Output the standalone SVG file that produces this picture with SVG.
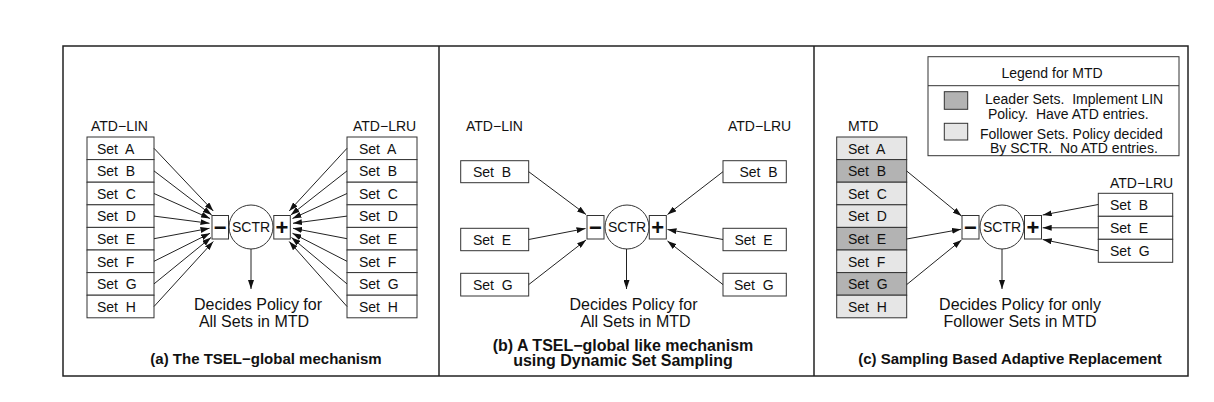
<svg xmlns="http://www.w3.org/2000/svg" width="1214" height="402" viewBox="0 0 1214 402">
<defs>
<marker id="ah" markerUnits="userSpaceOnUse" markerWidth="10" markerHeight="6" refX="9" refY="3" orient="auto">
<path d="M0,0 L9,3 L0,6 z" fill="#111"/>
</marker>
<style>
.t{font-family:"Liberation Sans",Arial,sans-serif;fill:#111}
.s{font-size:14px}
.lab{font-size:14px}
.cap{font-size:15px;font-weight:bold}
.dec{font-size:16px;text-anchor:middle}
.sc{font-size:14px;text-anchor:middle}
.sg{font-size:22px;font-weight:bold;text-anchor:middle}
.box{fill:#fff;stroke:#333;stroke-width:1}
.ld{fill:#b3b3b3;stroke:#333;stroke-width:1}
.fl{fill:#e6e6e6;stroke:#333;stroke-width:1}
.c{fill:none;stroke:#333;stroke-width:1}
.fr{fill:none;stroke:#222;stroke-width:1.5}
.ar{stroke:#222;stroke-width:1;fill:none;marker-end:url(#ah)}
</style>
</defs>
<rect x="0" y="0" width="1214" height="402" fill="#fff"/>
<g id="frame">
<rect class="fr" x="63" y="46" width="1125" height="330"/>
<line class="fr" x1="439" y1="46" x2="439" y2="376"/>
<line class="fr" x1="814" y1="46" x2="814" y2="376"/>
</g>

<!-- Panel A -->
<g id="a-atdlin">
<text class="t lab" x="91" y="131">ATD−LIN</text>
<rect class="box" x="87" y="137" width="67" height="22.6"/>
<rect class="box" x="87" y="159.6" width="67" height="22.6"/>
<rect class="box" x="87" y="182.2" width="67" height="22.6"/>
<rect class="box" x="87" y="204.8" width="67" height="22.6"/>
<rect class="box" x="87" y="227.4" width="67" height="22.6"/>
<rect class="box" x="87" y="250" width="67" height="22.6"/>
<rect class="box" x="87" y="272.6" width="67" height="22.6"/>
<rect class="box" x="87" y="295.2" width="67" height="22.6"/>
<text class="t s" x="97" y="153.5" xml:space="preserve">Set  A</text>
<text class="t s" x="97" y="176.1" xml:space="preserve">Set  B</text>
<text class="t s" x="97" y="198.7" xml:space="preserve">Set  C</text>
<text class="t s" x="97" y="221.3" xml:space="preserve">Set  D</text>
<text class="t s" x="97" y="243.9" xml:space="preserve">Set  E</text>
<text class="t s" x="97" y="266.5" xml:space="preserve">Set  F</text>
<text class="t s" x="97" y="289.1" xml:space="preserve">Set  G</text>
<text class="t s" x="97" y="311.7" xml:space="preserve">Set  H</text>
</g>
<g id="a-atdlru">
<text class="t lab" x="353" y="131">ATD−LRU</text>
<rect class="box" x="347" y="137" width="70" height="22.6"/>
<rect class="box" x="347" y="159.6" width="70" height="22.6"/>
<rect class="box" x="347" y="182.2" width="70" height="22.6"/>
<rect class="box" x="347" y="204.8" width="70" height="22.6"/>
<rect class="box" x="347" y="227.4" width="70" height="22.6"/>
<rect class="box" x="347" y="250" width="70" height="22.6"/>
<rect class="box" x="347" y="272.6" width="70" height="22.6"/>
<rect class="box" x="347" y="295.2" width="70" height="22.6"/>
<text class="t s" x="359" y="153.5" xml:space="preserve">Set  A</text>
<text class="t s" x="359" y="176.1" xml:space="preserve">Set  B</text>
<text class="t s" x="359" y="198.7" xml:space="preserve">Set  C</text>
<text class="t s" x="359" y="221.3" xml:space="preserve">Set  D</text>
<text class="t s" x="359" y="243.9" xml:space="preserve">Set  E</text>
<text class="t s" x="359" y="266.5" xml:space="preserve">Set  F</text>
<text class="t s" x="359" y="289.1" xml:space="preserve">Set  G</text>
<text class="t s" x="359" y="311.7" xml:space="preserve">Set  H</text>
</g>
<g id="a-minus"><rect class="box" x="212" y="215.5" width="16.5" height="23.5"/><text class="t sg" x="220.2" y="234.5">−</text></g>
<g id="a-sctr"><circle class="c" cx="251" cy="227" r="22" fill="#fff"/><text class="t sc" x="251" y="232">SCTR</text></g>
<g id="a-plus"><rect class="box" x="273.8" y="215.5" width="16.5" height="23.5"/><text class="t sg" x="282" y="235">+</text></g>
<g id="a-out"><text class="t dec" x="258" y="310">Decides Policy for</text><text class="t dec" x="254" y="327">All Sets in MTD</text></g>
<text class="t cap" x="266" y="364" text-anchor="middle">(a) The TSEL−global mechanism</text>

<!-- Panel B -->
<g id="b-atdlin">
<text class="t lab" x="466" y="131">ATD−LIN</text>
<rect class="box" x="460.7" y="160.7" width="68" height="22"/>
<rect class="box" x="460.7" y="228.3" width="68" height="22.4"/>
<rect class="box" x="460.7" y="273.3" width="68" height="22.7"/>
<text class="t s" x="473" y="176.8" xml:space="preserve">Set  B</text>
<text class="t s" x="473" y="244.5" xml:space="preserve">Set  E</text>
<text class="t s" x="473" y="289.6" xml:space="preserve">Set  G</text>
</g>
<g id="b-atdlru">
<text class="t lab" x="728" y="131">ATD−LRU</text>
<rect class="box" x="723" y="160.7" width="63.3" height="22"/>
<rect class="box" x="723" y="228.3" width="63.3" height="22.4"/>
<rect class="box" x="723" y="273.3" width="63.3" height="22.7"/>
<text class="t s" x="739.5" y="176.8" xml:space="preserve">Set  B</text>
<text class="t s" x="734.5" y="244.5" xml:space="preserve">Set  E</text>
<text class="t s" x="734" y="289.6" xml:space="preserve">Set  G</text>
</g>
<g id="b-minus"><rect class="box" x="587" y="215.5" width="17" height="23.5"/><text class="t sg" x="595.5" y="234.5">−</text></g>
<g id="b-sctr"><circle class="c" cx="627" cy="227" r="22" fill="#fff"/><text class="t sc" x="627" y="232">SCTR</text></g>
<g id="b-plus"><rect class="box" x="649.3" y="215.5" width="17" height="23.5"/><text class="t sg" x="657.8" y="235">+</text></g>
<g id="b-out"><text class="t dec" x="633.5" y="310">Decides Policy for</text><text class="t dec" x="635.5" y="327">All Sets in MTD</text></g>
<text class="t cap" x="623" y="351" text-anchor="middle" style="font-size:16px">(b) A TSEL−global like mechanism</text>
<text class="t cap" x="623" y="366" text-anchor="middle" style="font-size:16px">using Dynamic Set Sampling</text>

<!-- Panel C -->
<g id="c-legend">
<rect class="box" x="928" y="56.7" width="251" height="99"/>
<line class="c" x1="928" y1="85.7" x2="1179" y2="85.7"/>
<text class="t s" x="1052" y="78" text-anchor="middle">Legend for MTD</text>
<rect class="ld" x="944.3" y="91.7" width="23.4" height="17.6"/>
<rect class="fl" x="944.3" y="123.3" width="23.4" height="16.7"/>
<text class="t s" x="985" y="104" xml:space="preserve">Leader Sets.  Implement LIN</text>
<text class="t s" x="988" y="119" xml:space="preserve">Policy.  Have ATD entries.</text>
<text class="t s" x="980" y="138.5" xml:space="preserve">Follower Sets. Policy decided</text>
<text class="t s" x="990" y="153" xml:space="preserve">By SCTR.  No ATD entries.</text>
</g>
<g id="c-mtd">
<text class="t lab" x="848" y="131">MTD</text>
<rect class="fl" x="836.7" y="137" width="70" height="22.6"/>
<rect class="ld" x="836.7" y="159.6" width="70" height="22.6"/>
<rect class="fl" x="836.7" y="182.2" width="70" height="22.6"/>
<rect class="fl" x="836.7" y="204.8" width="70" height="22.6"/>
<rect class="ld" x="836.7" y="227.4" width="70" height="22.6"/>
<rect class="fl" x="836.7" y="250" width="70" height="22.6"/>
<rect class="ld" x="836.7" y="272.6" width="70" height="22.6"/>
<rect class="fl" x="836.7" y="295.2" width="70" height="22.6"/>
<text class="t s" x="848" y="153.5" xml:space="preserve">Set  A</text>
<text class="t s" x="848" y="176.1" xml:space="preserve">Set  B</text>
<text class="t s" x="848" y="198.7" xml:space="preserve">Set  C</text>
<text class="t s" x="848" y="221.3" xml:space="preserve">Set  D</text>
<text class="t s" x="848" y="243.9" xml:space="preserve">Set  E</text>
<text class="t s" x="848" y="266.5" xml:space="preserve">Set  F</text>
<text class="t s" x="848" y="289.1" xml:space="preserve">Set  G</text>
<text class="t s" x="848" y="311.7" xml:space="preserve">Set  H</text>
</g>
<g id="c-atdlru">
<text class="t lab" x="1110" y="188">ATD−LRU</text>
<rect class="box" x="1098.3" y="193.3" width="74.4" height="23"/>
<rect class="box" x="1098.3" y="216.3" width="74.4" height="23"/>
<rect class="box" x="1098.3" y="239.3" width="74.4" height="23"/>
<text class="t s" x="1110" y="209.8" xml:space="preserve">Set  B</text>
<text class="t s" x="1110" y="232.8" xml:space="preserve">Set  E</text>
<text class="t s" x="1110" y="255.8" xml:space="preserve">Set  G</text>
</g>
<g id="c-minus"><rect class="box" x="962" y="215.5" width="17" height="23.5"/><text class="t sg" x="970.5" y="234.5">−</text></g>
<g id="c-sctr"><circle class="c" cx="1002" cy="227" r="22" fill="#fff"/><text class="t sc" x="1002" y="232">SCTR</text></g>
<g id="c-plus"><rect class="box" x="1024.5" y="215.5" width="17" height="23.5"/><text class="t sg" x="1033" y="235">+</text></g>
<g id="c-out"><text class="t dec" x="1020" y="310">Decides Policy for only</text><text class="t dec" x="1020" y="327">Follower Sets in MTD</text></g>
<text class="t cap" x="1010" y="364" text-anchor="middle">(c) Sampling Based Adaptive Replacement</text>

<g id="connectors">
<line class="ar" x1="154" y1="148.3" x2="213.3" y2="211"/>
<line class="ar" x1="154" y1="170.9" x2="211.7" y2="215"/>
<line class="ar" x1="154" y1="193.5" x2="210" y2="218.5"/>
<line class="ar" x1="154" y1="216.1" x2="209.5" y2="223.3"/>
<line class="ar" x1="154" y1="238.7" x2="209.5" y2="228.3"/>
<line class="ar" x1="154" y1="261.3" x2="210" y2="233.3"/>
<line class="ar" x1="154" y1="283.9" x2="211" y2="237.5"/>
<line class="ar" x1="154" y1="306.5" x2="213.3" y2="241.5"/>
<line class="ar" x1="347" y1="148.3" x2="289.2" y2="211"/>
<line class="ar" x1="347" y1="170.9" x2="290.8" y2="215"/>
<line class="ar" x1="347" y1="193.5" x2="292.5" y2="218.5"/>
<line class="ar" x1="347" y1="216.1" x2="293" y2="223.3"/>
<line class="ar" x1="347" y1="238.7" x2="293" y2="228.3"/>
<line class="ar" x1="347" y1="261.3" x2="292.5" y2="233.3"/>
<line class="ar" x1="347" y1="283.9" x2="291.5" y2="237.5"/>
<line class="ar" x1="347" y1="306.5" x2="289.2" y2="241.5"/>
<line class="ar" x1="251" y1="249" x2="251" y2="289"/>
<line class="ar" x1="528.7" y1="171.7" x2="586" y2="214.5"/>
<line class="ar" x1="528.7" y1="239.5" x2="585.5" y2="228.5"/>
<line class="ar" x1="528.7" y1="284.6" x2="586" y2="240"/>
<line class="ar" x1="723" y1="171.7" x2="667.5" y2="214.5"/>
<line class="ar" x1="723" y1="239.5" x2="667.5" y2="229.5"/>
<line class="ar" x1="723" y1="284.6" x2="667.5" y2="241"/>
<line class="ar" x1="626.5" y1="249" x2="626.5" y2="289"/>
<line class="ar" x1="906.7" y1="171" x2="961.5" y2="216"/>
<line class="ar" x1="906.7" y1="239" x2="961" y2="229.3"/>
<line class="ar" x1="906.7" y1="284.6" x2="961.5" y2="240"/>
<line class="ar" x1="1098.3" y1="204.5" x2="1042.7" y2="215"/>
<line class="ar" x1="1098.3" y1="227.8" x2="1042.7" y2="227.8"/>
<line class="ar" x1="1098.3" y1="250.8" x2="1042.7" y2="239.5"/>
<line class="ar" x1="1002" y1="249" x2="1002" y2="289"/>
</g>
</svg>
